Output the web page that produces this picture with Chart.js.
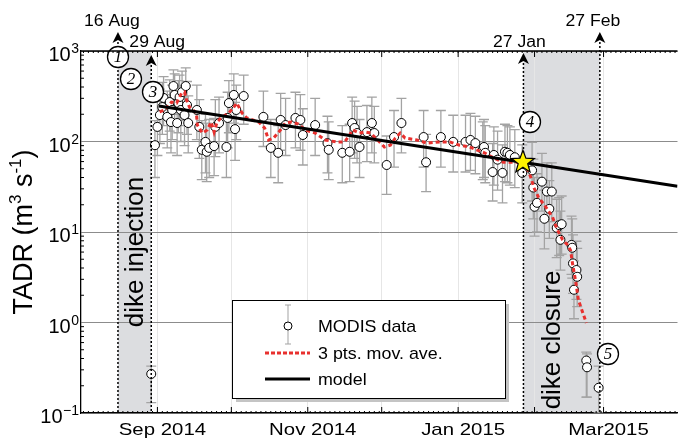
<!DOCTYPE html>
<html>
<head>
<meta charset="utf-8">
<script src="https://cdn.jsdelivr.net/npm/chart.js@4"></script>
<style>
  html, body { margin: 0; padding: 0; background: #fff; }
</style>
</head>
<body>
<canvas id="tadrChart" width="683" height="443"></canvas>
<script>
const FONT = "'Liberation Sans', Arial, Helvetica, sans-serif";

// MODIS time-averaged discharge rate, x in days since 1 Sep 2014
const obsDay = [
  -2.5, -1, 0, 1, 2, 2.5, 4, 5, 5.5, 6,
  6.5, 7, 8, 8.5, 9, 9.5, 10, 11, 11.5, 12,
  12.5, 16, 17, 18, 19.5, 20, 21, 23, 23.5, 25,
  28, 28.5, 29, 31, 31.5, 32, 35, 43, 46, 49,
  50, 52, 56, 58, 59, 64, 69, 69.5, 75, 78,
  79, 80, 81, 82, 85, 87, 88, 93, 96, 99,
  108, 109, 115, 120, 125, 127, 129, 132, 132.5, 133,
  136, 136.5, 138, 140, 141, 142, 143, 145, 148, 152,
  152.5, 153, 154, 156, 157, 158, 159, 160, 162, 163,
  163.5, 164, 168, 168.3, 168.6, 169, 170, 170.3, 174, 174.3, 179
];
const obsTADR = [
  0.27, 91, 145, 196, 240, 303, 187, 273, 164, 223,
  410, 327, 160, 266, 310, 223, 352, 196, 410, 253,
  160, 223, 145, 81, 99, 77, 85, 89, 145, 160,
  87, 182, 266, 327, 137, 223, 318, 187, 85, 75,
  173, 152, 182, 173, 118, 152, 96, 81, 75, 77,
  160, 141, 124, 87, 127, 160, 124, 55, 112, 160,
  112, 59, 112, 99, 99, 104, 96, 81, 87, 75,
  46, 71, 63, 45, 77, 75, 71, 67, 45, 48,
  31, 19, 21, 36, 14, 28, 18, 28, 11.1, 11.9,
  8.2, 12.2, 7.2, 6.7, 4.5, 2.3, 3.8, 3.2, 0.38, 0.32, 0.19
];
const obsLow = [
  0.13, 40, 70, 95, 120, 150, 85, 130, 75, 105,
  200, 160, 70, 125, 150, 100, 170, 90, 210, 120,
  75, 105, 65, 38, 45, 36, 40, 42, 68, 75,
  40, 85, 125, 160, 62, 105, 155, 88, 40, 35,
  80, 70, 85, 80, 55, 70, 45, 38, 35, 36,
  75, 65, 58, 40, 60, 75, 58, 26, 52, 75,
  52, 28, 52, 46, 46, 48, 44, 38, 40, 35,
  22, 33, 29, 21, 36, 35, 33, 31, 21, 22,
  14, 9, 10, 17, 6.5, 13, 8.5, 13, 5.2, 5.5,
  3.8, 5.7, 3.4, 3.1, 2.1, 1.1, 1.8, 1.5, 0.15, 0.15, 0.1
];
const obsHigh = [
  0.33, 170, 290, 380, 450, 520, 360, 480, 330, 420,
  620, 560, 310, 470, 540, 420, 600, 380, 650, 460,
  320, 420, 290, 170, 200, 160, 175, 180, 290, 310,
  180, 350, 470, 560, 270, 420, 540, 360, 175, 150,
  340, 300, 350, 330, 230, 300, 190, 165, 150, 155,
  310, 280, 245, 175, 250, 310, 245, 115, 220, 300,
  220, 120, 220, 195, 195, 205, 190, 165, 175, 150,
  95, 145, 130, 92, 155, 150, 145, 135, 92, 98,
  64, 40, 44, 74, 29, 58, 37, 58, 23, 24,
  17, 25, 15, 14, 9.3, 4.8, 7.9, 6.6, 0.47, 0.45, 0.33
];

// 3 pts. moving average (red dashed)
const maveDay = [
  0.9, 2.9, 5.7, 7.8, 9.8, 11, 11.8, 13, 15.8, 16.2,
  18.2, 20.2, 21.8, 23, 24.2, 26.2, 29, 31, 32.2, 34.3,
  36.3, 41.1, 43.5, 45.1, 47.1, 49.9, 51.9, 54.3, 57.2, 60,
  64, 68, 72.4, 76, 78, 79.2, 82, 84.5, 86.5, 89.3,
  92.1, 94.5, 96.5, 98.5, 100.5, 105.3, 109.4, 114.6, 118.6, 122.6,
  126.6, 129.4, 132.7, 136.3, 140.3, 144.3, 146.3, 149.5, 151.5, 152.7,
  154.7, 157.5, 160.3, 162.3, 164.4, 166.4, 167.6, 168.4, 169.6, 170.8, 174
];
const maveTADR = [
  212, 223, 273, 266, 343, 352, 288, 240, 207, 152,
  124, 134, 164, 127, 164, 187, 207, 240, 266, 207,
  182, 164, 141, 104, 109, 134, 160, 164, 156, 134,
  124, 104, 99, 99, 118, 134, 124, 127, 124, 104,
  87, 91, 109, 124, 109, 104, 96, 99, 99, 91,
  87, 81, 75, 66, 59, 59, 59, 55, 40, 31,
  24, 19, 14.6, 10.5, 8.2, 7.2, 6.3, 4.5, 2.95, 1.77, 0.99
];

// exponential decay model (straight on log axis)
const modelDay = [0.6, 211];
const modelTADR = [247, 32];

// onset of dike closure
const starDay = 148.3;
const starTADR = 59;

// axes
const monthDays = [0, 30, 61, 91, 122, 153, 181];
const monthLabels = ['Sep 2014', '', 'Nov 2014', '', 'Jan 2015', '', 'Mar2015'];
const yDecades = [0.1, 1, 10, 100, 1000];
const yExponents = ['\u22121', '0', '1', '2', '3'];

// events
const eventDays = [-16, -2.5, 148.5, 179.5];
const eventLabels = ['16 Aug', '29 Aug', '27 Jan', '27 Feb'];
const shadeSpans = [[-16, -2.5], [148.5, 179.5]];
const phaseLabels = ['dike injection', 'dike closure'];
const stageLabels = ['1', '2', '3', '4', '5'];

// annotation placement (pixels)
const eventStyle = [
  { tip: 32, dx: -6, base: 26 },
  { tip: 55, dx: 6, base: 47 },
  { tip: 53, dx: -4, base: 47 },
  { tip: 32, dx: -7, base: 26 }
];
const stagePos = [[118, 57], [131, 79], [153, 92], [530, 122], [608, 354]];
const phasePos = [[136, 252], [553, 340]];

function xy(days, vals) {
  return days.map((d, i) => ({ x: d, y: vals[i] }));
}

function drawText(ctx, text, x, y, size, align, sx) {
  ctx.save();
  ctx.font = size + 'px ' + FONT;
  ctx.translate(x, y);
  ctx.scale(sx || 1, 1);
  ctx.textAlign = align;
  ctx.textBaseline = 'alphabetic';
  ctx.fillStyle = '#000';
  ctx.fillText(text, 0, 0);
  ctx.restore();
}

const decor = {
  id: 'decor',
  beforeDraw(chart) {
    const { ctx, chartArea: a, scales: { x } } = chart;
    ctx.save();
    ctx.fillStyle = '#dcdde0';
    shadeSpans.forEach(s => {
      const x0 = x.getPixelForValue(s[0]), x1 = x.getPixelForValue(s[1]);
      ctx.fillRect(x0, a.top, x1 - x0, a.bottom - a.top);
    });
    ctx.restore();
  },
  beforeDatasetsDraw(chart) {
    const { ctx, chartArea: a, scales: { x, y } } = chart;
    ctx.save();
    ctx.beginPath();
    ctx.rect(a.left, a.top, a.right - a.left, a.bottom - a.top);
    ctx.clip();
    ctx.strokeStyle = '#a3a3a3';
    ctx.lineWidth = 1.3;
    obsDay.forEach((d, i) => {
      const px = x.getPixelForValue(d);
      const yl = y.getPixelForValue(obsLow[i]);
      const yh = y.getPixelForValue(obsHigh[i]);
      ctx.beginPath();
      ctx.moveTo(px, yl); ctx.lineTo(px, yh);
      ctx.moveTo(px - 5, yl); ctx.lineTo(px + 5, yl);
      ctx.moveTo(px - 5, yh); ctx.lineTo(px + 5, yh);
      ctx.stroke();
    });
    ctx.restore();
  },
  afterDatasetsDraw(chart) {
    const { ctx, chartArea: a, scales: { x, y } } = chart;
    ctx.save();
    // dotted event lines
    ctx.strokeStyle = '#000';
    ctx.lineWidth = 1.5;
    ctx.setLineDash([2, 2]);
    eventDays.forEach((d, i) => {
      const px = x.getPixelForValue(d);
      ctx.beginPath();
      ctx.moveTo(px, eventStyle[i].tip + 10);
      ctx.lineTo(px, a.bottom);
      ctx.stroke();
    });
    ctx.setLineDash([]);
    // arrow heads
    ctx.fillStyle = '#000';
    eventDays.forEach((d, i) => {
      const px = x.getPixelForValue(d), t = eventStyle[i].tip;
      ctx.beginPath();
      ctx.moveTo(px, t);
      ctx.lineTo(px - 5.5, t + 11);
      ctx.lineTo(px, t + 8);
      ctx.lineTo(px + 5.5, t + 11);
      ctx.closePath();
      ctx.fill();
      drawText(ctx, eventLabels[i], px + eventStyle[i].dx, eventStyle[i].base, 16, 'center', 1.1);
    });
    // phase labels
    phaseLabels.forEach((t, i) => {
      ctx.save();
      ctx.translate(phasePos[i][0], phasePos[i][1]);
      ctx.rotate(-Math.PI / 2);
      ctx.font = '26px ' + FONT;
      ctx.textAlign = 'center';
      ctx.textBaseline = 'middle';
      ctx.fillStyle = '#000';
      ctx.fillText(t, 0, 0);
      ctx.restore();
    });
    // star
    const sx = x.getPixelForValue(starDay), sy = y.getPixelForValue(starTADR);
    ctx.beginPath();
    for (let k = 0; k < 10; k++) {
      const r = k % 2 === 0 ? 12 : 5;
      const ang = -Math.PI / 2 + k * Math.PI / 5;
      const px = sx + r * Math.cos(ang), py = sy + r * Math.sin(ang);
      if (k === 0) ctx.moveTo(px, py); else ctx.lineTo(px, py);
    }
    ctx.closePath();
    ctx.fillStyle = '#fff200';
    ctx.fill();
    ctx.lineWidth = 1.2;
    ctx.strokeStyle = '#000';
    ctx.stroke();
    // circled stage numbers
    stageLabels.forEach((s, i) => {
      const [cx, cy] = stagePos[i];
      ctx.beginPath();
      ctx.arc(cx, cy, 10.5, 0, Math.PI * 2);
      ctx.fillStyle = '#fff';
      ctx.fill();
      ctx.lineWidth = 1.3;
      ctx.strokeStyle = '#000';
      ctx.stroke();
      ctx.fillStyle = '#000';
      ctx.font = "italic 17px 'Liberation Serif', 'Times New Roman', serif";
      ctx.textAlign = 'center';
      ctx.textBaseline = 'middle';
      ctx.fillText(s, cx, cy + 1);
    });
    ctx.restore();
  },
  afterDraw(chart) {
    const { ctx, chartArea: a, scales: { x, y } } = chart;
    ctx.save();
    // top frame line
    ctx.strokeStyle = '#000';
    ctx.lineWidth = 1.3;
    ctx.beginPath();
    ctx.moveTo(a.left, a.top);
    ctx.lineTo(a.right, a.top);
    ctx.stroke();
    // inward ticks
    ctx.lineWidth = 1;
    ctx.beginPath();
    for (let d = -30; d <= 211; d += 2) {
      const px = x.getPixelForValue(d);
      ctx.moveTo(px, a.bottom); ctx.lineTo(px, a.bottom - 2);
      ctx.moveTo(px, a.top); ctx.lineTo(px, a.top + 2);
    }
    monthDays.forEach(d => {
      const px = x.getPixelForValue(d);
      ctx.moveTo(px, a.bottom); ctx.lineTo(px, a.bottom - 6);
      ctx.moveTo(px, a.top); ctx.lineTo(px, a.top + 6);
    });
    yDecades.forEach(v => {
      for (let k = 2; k <= 9; k++) {
        if (v * k > 1000) break;
        const py = y.getPixelForValue(v * k);
        ctx.moveTo(a.left, py); ctx.lineTo(a.left + 3, py);
      }
    });
    ctx.stroke();
    // x tick labels
    monthDays.forEach((d, i) => {
      if (monthLabels[i]) drawText(ctx, monthLabels[i], x.getPixelForValue(d) + 5, 435, 17, 'center', 1.2);
    });
    // y tick labels
    yDecades.forEach((v, i) => {
      const py = y.getPixelForValue(v);
      ctx.font = '14px ' + FONT;
      const ew = ctx.measureText(yExponents[i]).width;
      drawText(ctx, yExponents[i], 79, py + 2, 14, 'right', 1);
      drawText(ctx, '10', 79 - ew - 0.5, py + 10, 20, 'right', 1);
    });
    // y title with superscripts
    ctx.save();
    ctx.translate(32, (a.top + a.bottom) / 2);
    ctx.rotate(-Math.PI / 2);
    ctx.fillStyle = '#000';
    ctx.textBaseline = 'alphabetic';
    ctx.textAlign = 'left';
    const parts = [['TADR (m', 27, 0], ['3', 17, -11], [' s', 27, 0], ['-1', 17, -11], [')', 27, 0]];
    let total = 0;
    parts.forEach(p => { ctx.font = p[1] + 'px ' + FONT; total += ctx.measureText(p[0]).width; });
    let cx = -total / 2;
    parts.forEach(p => {
      ctx.font = p[1] + 'px ' + FONT;
      ctx.fillText(p[0], cx, p[2]);
      cx += ctx.measureText(p[0]).width;
    });
    ctx.restore();
    // legend box
    const L = { x: 232, y: 300, w: 273, h: 98 };
    ctx.fillStyle = '#c4c4c4';
    ctx.fillRect(L.x + 4, L.y + 4, L.w, L.h);
    ctx.fillStyle = '#fff';
    ctx.fillRect(L.x, L.y, L.w, L.h);
    ctx.strokeStyle = '#000';
    ctx.lineWidth = 1;
    ctx.strokeRect(L.x + 0.5, L.y + 0.5, L.w, L.h);
    // legend: MODIS data
    ctx.strokeStyle = '#a3a3a3';
    ctx.beginPath();
    ctx.moveTo(288, 305); ctx.lineTo(288, 344);
    ctx.moveTo(285, 305); ctx.lineTo(291, 305);
    ctx.moveTo(285, 344); ctx.lineTo(291, 344);
    ctx.stroke();
    ctx.beginPath();
    ctx.arc(288, 326, 4, 0, Math.PI * 2);
    ctx.fillStyle = '#fff';
    ctx.fill();
    ctx.strokeStyle = '#000';
    ctx.stroke();
    // legend: moving average
    ctx.strokeStyle = '#e8302e';
    ctx.lineWidth = 3;
    ctx.setLineDash([4, 2]);
    ctx.beginPath();
    ctx.moveTo(265, 353); ctx.lineTo(310, 353);
    ctx.stroke();
    ctx.setLineDash([]);
    // legend: model
    ctx.strokeStyle = '#000';
    ctx.beginPath();
    ctx.moveTo(265, 379); ctx.lineTo(310, 379);
    ctx.stroke();
    const names = chart.data.datasets.map(ds => ds.label);
    drawText(ctx, names[0], 318, 332, 17, 'left', 1.05);
    drawText(ctx, names[1], 318, 359, 17, 'left', 1.05);
    drawText(ctx, names[2], 318, 385, 17, 'left', 1.05);
    ctx.restore();
  }
};

new Chart(document.getElementById('tadrChart'), {
  type: 'line',
  data: {
    datasets: [
      {
        label: 'MODIS data',
        data: xy(obsDay, obsTADR),
        showLine: false,
        pointRadius: 4.5,
        pointBackgroundColor: '#fff',
        pointBorderColor: '#000',
        pointBorderWidth: 1,
        order: 3
      },
      {
        label: '3 pts. mov. ave.',
        data: xy(maveDay, maveTADR),
        borderColor: '#e8302e',
        borderWidth: 3,
        borderDash: [4, 3],
        pointRadius: 0,
        fill: false,
        order: 2
      },
      {
        label: 'model',
        data: xy(modelDay, modelTADR),
        borderColor: '#000',
        borderWidth: 3,
        pointRadius: 0,
        fill: false,
        order: 1
      }
    ]
  },
  options: {
    responsive: false,
    animation: false,
    devicePixelRatio: 1,
    layout: { padding: { top: 51, left: 0, right: 0, bottom: 0 } },
    plugins: { legend: { display: false }, tooltip: { enabled: false } },
    scales: {
      x: {
        type: 'linear',
        min: -31,
        max: 211,
        afterFit(s) { s.height = 30; },
        afterBuildTicks(s) { s.ticks = monthDays.map(v => ({ value: v })); },
        ticks: { display: false },
        grid: { color: '#e6e6e6', lineWidth: 1, drawTicks: false },
        border: { color: '#000', width: 1.3 }
      },
      y: {
        type: 'logarithmic',
        min: 0.1,
        max: 1000,
        afterFit(s) { s.width = 81; },
        afterBuildTicks(s) { s.ticks = yDecades.map(v => ({ value: v })); },
        ticks: { display: false },
        grid: { color: '#8c8c8c', lineWidth: 1, drawTicks: false },
        border: { color: '#000', width: 1.3 }
      }
    }
  },
  plugins: [decor]
});
</script>
</body>
</html>
